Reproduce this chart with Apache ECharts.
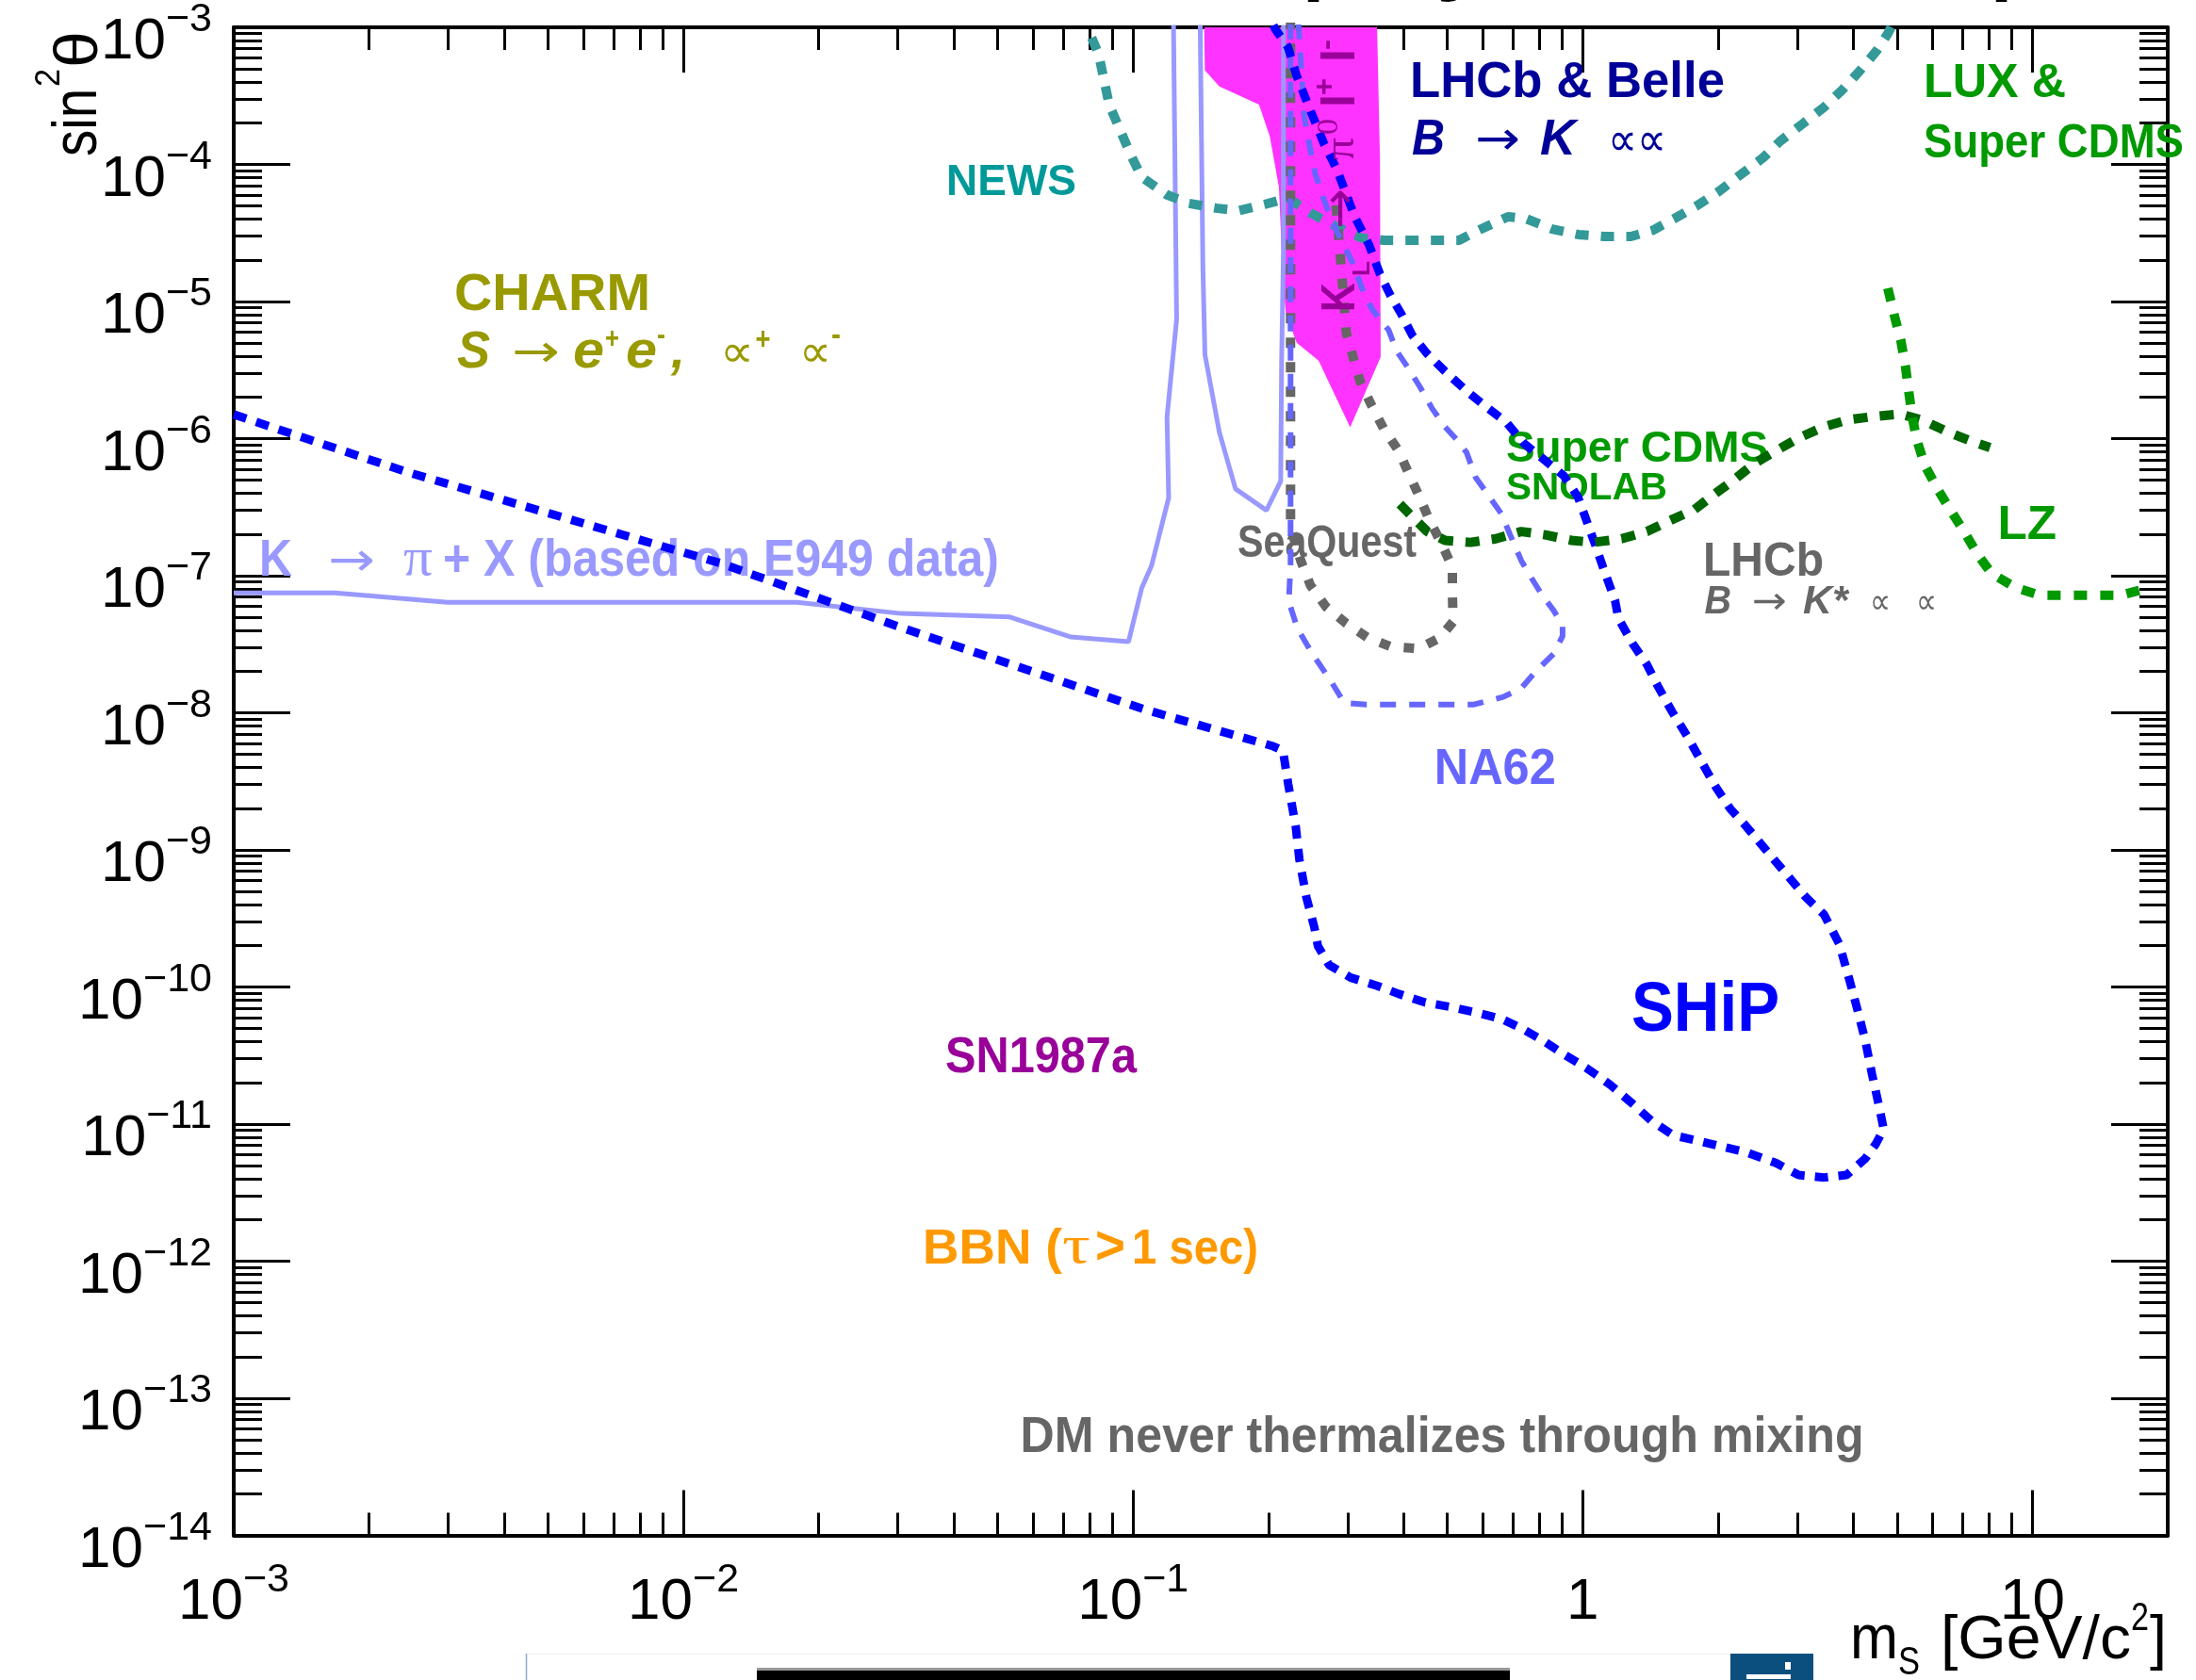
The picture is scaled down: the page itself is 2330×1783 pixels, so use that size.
<!DOCTYPE html>
<html><head><meta charset="utf-8">
<script src="https://cdn.jsdelivr.net/npm/echarts@6/dist/echarts.min.js"></script>
<style>html,body{margin:0;padding:0;background:#fff}#c{width:2330px;height:1783px}</style>
</head><body><div id="c"></div>
<script>
// ---------------- data (mass m_S [GeV/c^2], sin^2 theta) ----------------
const xMajorTicks = [0.001, 0.01, 0.1, 1, 10];
const yMajorTicks = [1e-14,1e-13,1e-12,1e-11,1e-10,1e-9,1e-8,1e-7,1e-6,1e-5,1e-4,1e-3];
const minorMultipliers = [2,3,4,5,6,7,8,9];

const shipMass = [0.001,0.00243,0.01213,0.0305,0.0647,0.1079,0.1574,0.205,0.2155,0.2213,0.230,0.2344,0.243,0.253,0.2577,0.2728,0.305,0.349,0.390,0.447,0.509,0.582,0.664,0.730,0.817,0.916,1.02,1.15,1.29,1.42,1.59,1.85,2.32,2.69,3.02,3.44,3.86,4.25,4.49,4.67,4.57,4.40,4.25,4.09,3.93,3.72,3.44,3.14,2.64,2.28,2.13,1.98,1.84,1.71,1.58,1.47,1.39,1.29,1.20,1.18,1.11,1.07,0.977,0.908,0.813,0.741,0.676,0.605,0.552,0.494,0.450,0.418,0.395,0.374,0.354,0.335,0.311,0.284,0.266,0.244,0.231,0.221,0.207,0.202];
const shipSin2 = [1.50e-6,5.7e-7,1.23e-7,4.19e-8,1.83e-8,1.04e-8,7.3e-9,5.7e-9,5.3e-9,3.03e-9,1.49e-9,8.5e-10,4.49e-10,2.73e-10,1.99e-10,1.45e-10,1.17e-10,1.02e-10,8.9e-11,7.7e-11,7.15e-11,6.5e-11,5.8e-11,5.0e-11,4.06e-11,3.17e-11,2.56e-11,1.94e-11,1.41e-11,1.06e-11,8.3e-12,7.4e-12,6.2e-12,5.2e-12,4.25e-12,4.08e-12,4.25e-12,5.6e-12,7.2e-12,9.2e-12,1.31e-11,2.31e-11,4.06e-11,6.7e-11,1.09e-10,2.06e-10,3.38e-10,4.49e-10,8.8e-10,1.56e-9,1.99e-9,2.85e-9,4.36e-9,6.7e-9,1.02e-8,1.56e-8,2.24e-8,3.21e-8,4.9e-8,6.6e-8,1.15e-7,1.63e-7,3.72e-7,5.35e-7,7.2e-7,9.2e-7,1.32e-6,1.74e-6,2.22e-6,3.1e-6,4.19e-6,5.66e-6,8.1e-6,1.1e-5,1.59e-5,2.58e-5,4.18e-5,9.2e-5,1.41e-4,2.82e-4,4.46e-4,7.2e-4,9.75e-4,1.15e-3];

const seaquestMass = [0.224,0.224,0.236,0.248,0.269,0.298,0.333,0.375,0.431,0.481,0.515,0.513,0.513,0.486,0.455,0.434,0.411,0.389,0.361,0.339,0.320,0.309,0.298,0.289,0.286,0.282];
const seaquestSin2 = [1.15e-3,2.24e-7,1.29e-7,8.5e-8,5.9e-8,4.48e-8,3.52e-8,3.03e-8,2.94e-8,3.52e-8,4.62e-8,7.5e-8,1.15e-7,1.70e-7,2.59e-7,3.73e-7,5.5e-7,8.2e-7,1.18e-6,1.75e-6,2.61e-6,3.87e-6,5.9e-6,2.14e-5,3.27e-5,5.7e-5];

const na62Mass = [0.2333,0.2355,0.2377,0.240,0.2465,0.254,0.266,0.278,0.294,0.308,0.323,0.340,0.370,0.386,0.411,0.435,0.463,0.494,0.528,0.552,0.578,0.617,0.659,0.690,0.730,0.771,0.815,0.861,0.902,0.902,0.861,0.785,0.730,0.664,0.573,0.330,0.295,0.274,0.252,0.232,0.222,0.224,0.224];
const na62Sin2 = [1.07e-3,6.4e-4,3.94e-4,2.28e-4,1.41e-4,8.6e-5,5.5e-5,3.72e-5,2.58e-5,1.91e-5,1.25e-5,8.8e-6,6.2e-6,4.34e-6,3.2e-6,2.37e-6,1.65e-6,1.22e-6,9.6e-7,7.9e-7,5.2e-7,3.85e-7,2.84e-7,1.98e-7,1.29e-7,9.5e-8,7.1e-8,5.6e-8,4.35e-8,3.63e-8,2.69e-8,1.99e-8,1.51e-8,1.30e-8,1.15e-8,1.15e-8,1.18e-8,1.75e-8,2.61e-8,4.12e-8,6.5e-8,1.2e-7,1.15e-3];

const newsMass = [0.0809,0.0838,0.0885,0.0935,0.0989,0.1044,0.119,0.133,0.153,0.172,0.196,0.221,0.249,0.284,0.323,0.361,0.531,0.582,0.682,0.747,0.855,0.978,1.12,1.28,1.43,1.60,1.79,2.01,2.25,2.52,2.75,3.08,3.44,3.77,4.12,4.51,4.77,4.90];
const newsSin2 = [8.4e-4,6.4e-4,2.73e-4,1.79e-4,1.17e-4,8.1e-5,6.0e-5,5.2e-5,4.8e-5,4.6e-5,5.1e-5,5.7e-5,4.4e-5,3.5e-5,2.9e-5,2.8e-5,2.8e-5,3.27e-5,4.16e-5,4.03e-5,3.38e-5,3.08e-5,2.98e-5,2.98e-5,3.30e-5,4.03e-5,4.97e-5,6.37e-5,8.47e-5,1.12e-4,1.48e-4,1.97e-4,2.61e-4,3.47e-4,4.76e-4,6.78e-4,9.0e-4,1.07e-3];

const snolabMass = [0.392,0.419,0.451,0.494,0.563,0.641,0.730,0.830,0.944,1.055,1.22,1.39,1.56,1.77,1.95,2.18,2.41,2.70,3.02,3.44,3.89,4.43,5.09,5.71,6.44,7.29,8.05];
const snolabSin2 = [3.33e-7,2.67e-7,2.10e-7,1.81e-7,1.75e-7,1.86e-7,2.10e-7,1.98e-7,1.81e-7,1.75e-7,1.86e-7,2.10e-7,2.52e-7,3.03e-7,3.87e-7,5.06e-7,6.6e-7,8.2e-7,1.01e-6,1.22e-6,1.37e-6,1.45e-6,1.51e-6,1.36e-6,1.13e-6,9.6e-7,8.6e-7];

const lzMass = [4.77,4.93,5.10,5.22,5.31,5.40,5.53,5.76,6.15,6.56,7.06,7.54,8.11,9.17,10.4,15.7,17.8];
const lzSin2 = [1.25e-5,7.96e-6,5.18e-6,3.38e-6,2.2e-6,1.47e-6,9.86e-7,6.43e-7,4.3e-7,3.04e-7,2.09e-7,1.44e-7,1.04e-7,8.2e-8,7.2e-8,7.2e-8,8.0e-8];

const e949OuterMass = [0.001,0.00168,0.00299,0.0179,0.0305,0.0532,0.0728,0.0977,0.1045,0.110,0.120,0.119,0.125,0.123];
const e949OuterSin2 = [7.5e-8,7.5e-8,6.4e-8,6.4e-8,5.3e-8,5.0e-8,3.57e-8,3.3e-8,8.1e-8,1.19e-7,3.7e-7,1.44e-6,7.4e-6,1.1e-3];
const e949InnerMass = [0.141,0.143,0.1445,0.1556,0.169,0.198,0.213,0.214,0.216,0.216];
const e949InnerSin2 = [1.1e-3,1.8e-5,4.1e-6,1.11e-6,4.3e-7,3.0e-7,4.9e-7,3.7e-6,2.3e-5,1.1e-3];

const klMass = [0.1439,0.1444,0.1556,0.1906,0.2014,0.2111,0.2155,0.2188,0.2312,0.2586,0.304,0.3554,0.3541,0.3487];
const klSin2 = [1.1e-3,4.86e-4,3.7e-4,2.73e-4,1.6e-4,6.8e-5,1.38e-5,8.1e-6,5.0e-6,3.7e-6,1.21e-6,3.94e-6,1.1e-4,1.1e-3];

// ---------------- helpers ----------------
function minorTicks(lo, hi, min, max) {
  const out = [];
  for (let e = lo; e <= hi; e++) for (const k of minorMultipliers) {
    const v = +(k * Math.pow(10, e)).toPrecision(3);
    if (v > min * 1.0001 && v < max * 0.9999) out.push(v);
  }
  return out;
}
const xMinorTicks = minorTicks(-3, 1, 0.001, 20);
const yMinorTicks = minorTicks(-14, -4, 1e-14, 1e-3);
const pairs = (xs, ys) => xs.map((x, i) => [x, ys[i]]);

const SANS = '"Liberation Sans", Arial, Helvetica, sans-serif';
const SERIF = '"Liberation Serif", "DejaVu Serif", serif';
const SYMF = '"DejaVu Sans", "Liberation Sans", sans-serif';

function powLabel(v) {
  const e = Math.round(Math.log10(v));
  if (e === 0) return '{b|1}';
  if (e === 1) return '{b|10}';
  return '{b|10}{s|' + (e < 0 ? '\u2212' : '') + Math.abs(e) + '}';
}
const richLab = {
  b: { fontSize: 62, fontFamily: SANS, lineHeight: 76, verticalAlign: 'bottom', color: '#000' },
  s: { fontSize: 43, fontFamily: SANS, lineHeight: 30, verticalAlign: 'top', color: '#000' }
};

const axLine = { show: true, onZero: false, lineStyle: { color: '#000', width: 4 } };
const xBase = { type: 'log', logBase: 10, min: 0.001, max: 20, splitLine: { show: false }, axisPointer: { show: false } };
const yBase = { type: 'log', logBase: 10, min: 1e-14, max: 1e-3, splitLine: { show: false }, axisPointer: { show: false } };
function tk(len, vals) { return { show: true, inside: true, length: len, lineStyle: { color: '#000', width: 3 }, customValues: vals }; }

const xAxis = [
  Object.assign({}, xBase, { position: 'bottom', axisLine: axLine, axisTick: tk(48, xMajorTicks),
    axisLabel: { show: true, customValues: xMajorTicks, formatter: powLabel, margin: 26, fontSize: 62, fontFamily: SANS, color: '#000', rich: richLab } }),
  Object.assign({}, xBase, { position: 'top', axisLine: axLine, axisTick: tk(48, xMajorTicks), axisLabel: { show: false } }),
  Object.assign({}, xBase, { position: 'bottom', axisLine: { show: false }, axisTick: tk(24, xMinorTicks), axisLabel: { show: false } }),
  Object.assign({}, xBase, { position: 'top', axisLine: { show: false }, axisTick: tk(24, xMinorTicks), axisLabel: { show: false } })
];
const yAxis = [
  Object.assign({}, yBase, { position: 'left', axisLine: axLine, axisTick: tk(60, yMajorTicks),
    axisLabel: { show: true, customValues: yMajorTicks, formatter: powLabel, margin: 23, padding: [18, 0, 0, 0], fontSize: 62, fontFamily: SANS, color: '#000', rich: richLab } }),
  Object.assign({}, yBase, { position: 'right', axisLine: axLine, axisTick: tk(60, yMajorTicks), axisLabel: { show: false } }),
  Object.assign({}, yBase, { position: 'left', axisLine: { show: false }, axisTick: tk(30, yMinorTicks), axisLabel: { show: false } }),
  Object.assign({}, yBase, { position: 'right', axisLine: { show: false }, axisTick: tk(30, yMinorTicks), axisLabel: { show: false } })
];

function curve(name, xs, ys, color, width, dash) {
  return { name, type: 'line', data: pairs(xs, ys), symbol: 'none', showSymbol: false, silent: true, clip: true, z: 2,
    lineStyle: { color, width, type: dash, cap: 'butt', join: 'bevel' } };
}

const series = [
  { name: 'KL', type: 'custom', data: [[klMass[0], klSin2[0]]], encode: { x: 0, y: 1 }, clip: true, silent: true, z: 2,
    renderItem: (params, api) => ({ type: 'polygon', shape: { points: klMass.map((m, i) => api.coord([m, klSin2[i]])) }, style: { fill: '#ff33ff' } }) },
  curve('E949a', e949OuterMass, e949OuterSin2, '#9999ff', 5, 'solid'),
  curve('E949b', e949InnerMass, e949InnerSin2, '#9999ff', 5, 'solid'),
  curve('NEWS', newsMass, newsSin2, '#339999', 10, [14, 13]),
  curve('SeaQuest', seaquestMass, seaquestSin2, '#666666', 10, [11, 15]),
  curve('NA62', na62Mass, na62Sin2, '#6666ff', 6, [17, 14]),
  curve('SHiP', shipMass, shipSin2, '#0000ff', 9, [14, 11]),
  curve('SNOLAB', snolabMass, snolabSin2, '#006600', 10, [15, 13]),
  curve('LZ', lzMass, lzSin2, '#009900', 10, [14, 14])
];

// ---------------- text annotations ----------------
const mctx = document.createElement('canvas').getContext('2d');
function fontStr(o, size) { return (o.italic ? 'italic ' : 'normal ') + (o.weight || 'bold') + ' ' + size + 'px ' + (o.family || SANS); }
function textEl(text, x, y, size, color, o) {
  o = o || {};
  const font = fontStr(o, size);
  let sx = 1;
  if (o.w) { mctx.font = font; const w = mctx.measureText(text).width; if (w > 0) sx = o.w / w; }
  return { type: 'text', x, y, rotation: o.rot || 0, scaleX: sx, z: o.z == null ? 1 : o.z, silent: true,
    style: { text, font, fill: color, align: 'left', verticalAlign: 'middle', textAlign: 'left', textVerticalAlign: 'middle' } };
}
const lbl = (t, left, base, size, color, o) => textEl(t, left, base - 0.3465 * size, size, color, o);
const lblMid = (t, left, mid, size, color, o) => textEl(t, left, mid, size, color, o);
const vlbl = (t, start, midX, size, color, o) => textEl(t, midX, start, size, color, Object.assign({}, o, { rot: Math.PI / 2 }));
const N = { weight: 'normal' };
const sym = (w) => ({ weight: 'normal', family: SYMF, w });
const ser = (w) => ({ weight: 'normal', family: SERIF, w });

const OL = '#999900', NV = '#000099', GR = '#009900', GY = '#666666', PU = '#990099', LB = '#9999ff', OR = '#ff9900';
const texts = [
  // cropped title at the very top (only descenders show)
  lbl('physics @ Sp', 1379, -16, 131, '#000', N),
  // CHARM
  lbl('CHARM', 482, 333, 56, OL, { w: 208 }),
  lbl('S', 485, 394, 56, OL, { italic: true, w: 35 }),
  lblMid('\u2192', 543, 377, 48, OL, sym(51)),
  lbl('e', 608, 394, 56, OL, { italic: true, w: 33 }),
  lblMid('+', 642, 360, 32, OL, { w: 15 }),
  lbl('e', 664, 394, 56, OL, { italic: true, w: 33 }),
  lblMid('-', 697, 356, 32, OL, { w: 9 }),
  lbl(',', 712, 394, 56, OL, { italic: true, w: 15 }),
  lblMid('\u221D', 764, 377, 48, OL, sym(36)),
  lblMid('+', 801, 362, 34, OL, { italic: true, w: 16 }),
  lblMid('\u221D', 848, 377, 48, OL, sym(34)),
  lblMid('-', 882, 357, 34, OL, { w: 10 }),
  // NEWS
  lbl('NEWS', 1004, 210.5, 47, '#009999', { w: 138 }),
  // LHCb & Belle
  lbl('LHCb & Belle', 1496, 107, 54, NV, { w: 334 }),
  lbl('B', 1498, 168, 53, NV, { italic: true, w: 35 }),
  lblMid('\u2192', 1565, 151, 50, NV, sym(48)),
  lbl('K', 1634, 168, 53, NV, { italic: true, w: 38 }),
  lblMid('\u221D\u221D', 1706, 152, 50, NV, sym(62)),
  // LUX & Super CDMS
  lbl('LUX &', 2041, 107, 50, GR, { w: 151 }),
  lbl('Super CDMS', 2041, 171, 50, GR, { w: 276 }),
  // Super CDMS SNOLAB
  lbl('Super CDMS', 1598, 493, 46, GR, { w: 278 }),
  lbl('SNOLAB', 1598, 533, 40, GR, { w: 171 }),
  // SeaQuest
  lbl('SeaQuest', 1313, 594.7, 48, GY, { w: 190 }),
  // K -> pi + X
  lbl('K', 275, 615, 56, LB, { w: 35 }),
  lblMid('\u2192', 348, 598, 50, LB, sym(50)),
  lbl('\u03C0', 428, 615, 58, LB, ser(31)),
  lbl('+ X (based on E949 data)', 470, 615, 56, LB, { w: 590 }),
  // NA62, SHiP, SN1987a
  lbl('NA62', 1521.7, 835.8, 53, '#6666ff', { w: 129 }),
  lbl('SHiP', 1731, 1099, 74, '#0000ff', { w: 157 }),
  lbl('SN1987a', 1003, 1142, 53, PU, { w: 203 }),
  // BBN
  lbl('BBN (', 979, 1345, 52, OR, { w: 148 }),
  lbl('\u03C4', 1127, 1345, 56, OR, ser(30)),
  lbl('>', 1162, 1345, 58, OR, { w: 32 }),
  lbl('1 sec)', 1201, 1345, 52, OR, { w: 134 }),
  // DM never thermalizes
  lbl('DM never thermalizes through mixing', 1082.6, 1545, 53, GY, { w: 895 }),
  // LZ
  lbl('LZ', 2119.5, 576, 50, GR, { w: 62.5 }),
  // LHCb B -> K* mu mu
  lbl('LHCb', 1807, 615, 50, GY, { w: 128 }),
  lbl('B', 1808.5, 654, 42, GY, { italic: true, w: 28.5 }),
  lblMid('\u2192', 1859, 640.5, 40, GY, sym(37)),
  lbl('K*', 1913, 654, 42, GY, { italic: true, w: 47.6 }),
  lblMid('\u221D', 1984, 641.5, 38, GY, sym(22)),
  lblMid('\u221D', 2033, 641.5, 38, GY, sym(22)),
  // K_L -> pi0 l+ l- (vertical)
  vlbl('K', 331, 1423.5, 50, PU, { w: 31, z: 10 }),
  vlbl('L', 293, 1446, 26, PU, { w: 16, z: 10 }),
  vlbl('\u2192', 243, 1425.5, 50, PU, { weight: 'normal', family: SYMF, w: 43, z: 10 }),
  vlbl('\u03C0', 170, 1423.5, 46, PU, { weight: 'normal', family: SERIF, w: 24, z: 10 }),
  vlbl('0', 143, 1411, 32, PU, { weight: 'normal', family: SERIF, w: 17, z: 10 }),
  vlbl('l', 114, 1423.5, 50, PU, { w: 14, z: 10 }),
  vlbl('+', 101, 1406.5, 32, PU, { w: 18, z: 10 }),
  vlbl('l', 66, 1423.5, 50, PU, { w: 14, z: 10 }),
  vlbl('-', 53, 1408, 32, PU, { w: 11, z: 10 }),
  // y axis title sin^2 theta
  vlbl('sin', 166, 84, 66, '#000', { weight: 'normal', w: 72 }),
  vlbl('2', 92, 53.5, 36, '#000', { weight: 'normal', w: 19 }),
  vlbl('\u03B8', 72, 85, 64, '#000', { weight: 'normal', w: 39 }),
  // x axis title m_S [GeV/c^2]
  lbl('m', 1963, 1765, 66, '#000', { weight: 'normal', w: 51 }),
  lbl('S', 2014, 1780, 42, '#000', { weight: 'normal', w: 23 }),
  lbl('[GeV/c', 2059, 1765, 65, '#000', { weight: 'normal', w: 202 }),
  lbl('2', 2261, 1733, 42, '#000', { weight: 'normal', w: 19 }),
  lbl(']', 2281, 1765, 65, '#000', { weight: 'normal', w: 18 })
];

// cropped screenshot remnants along the bottom edge
const remnants = [
  { type: 'line', silent: true, shape: { x1: 559, y1: 1755.5, x2: 1836, y2: 1755.5 }, style: { stroke: '#eeeeee', lineWidth: 1 } },
  { type: 'line', silent: true, shape: { x1: 558.5, y1: 1755, x2: 558.5, y2: 1783 }, style: { stroke: '#8fa9c4', lineWidth: 1.5 } },
  { type: 'rect', silent: true, shape: { x: 803, y: 1770, width: 799, height: 3 }, style: { fill: '#999' } },
  { type: 'rect', silent: true, shape: { x: 803, y: 1773, width: 799, height: 10 }, style: { fill: '#000' } },
  { type: 'rect', silent: true, shape: { x: 1836, y: 1755, width: 88, height: 28 }, style: { fill: '#0b4f7e' } },
  { type: 'rect', silent: true, shape: { x: 1853, y: 1777, width: 47, height: 5 }, style: { fill: '#fff' } },
  { type: 'rect', silent: true, shape: { x: 1894, y: 1764, width: 6, height: 8 }, style: { fill: '#fff' } }
];

const chart = echarts.init(document.getElementById('c'), null, { renderer: 'canvas', width: 2330, height: 1783 });
chart.setOption({
  backgroundColor: '#ffffff',
  animation: false,
  grid: { left: 248, right: 30, top: 29, bottom: 153.5, containLabel: false },
  xAxis, yAxis, series,
  graphic: { elements: texts.concat(remnants) }
});
</script></body></html>
